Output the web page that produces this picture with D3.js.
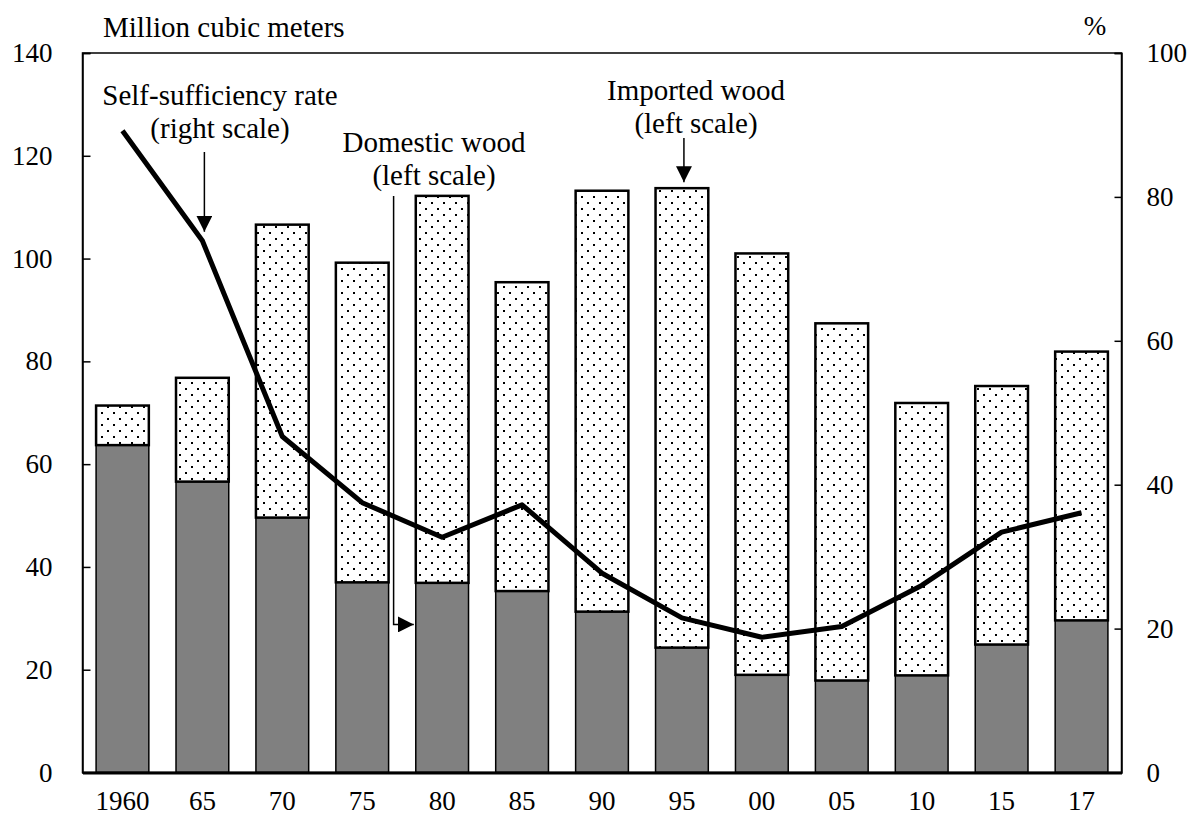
<!DOCTYPE html>
<html>
<head>
<meta charset="utf-8">
<script src="https://cdn.jsdelivr.net/npm/d3@7"></script>
<style>
  body { margin: 0; background: #fff; }
  text { font-family: "Liberation Serif", "Times New Roman", serif; fill: #000; }
</style>
</head>
<body>
<div id="chart"></div>
<script>
// donnees
var years = ["1960","65","70","75","80","85","90","95","00","05","10","15","17"];
var domestic = [63.7, 56.6, 49.6, 37.0, 36.9, 35.3, 31.3, 24.3, 19.0, 17.9, 18.9, 24.9, 29.6];
var total    = [71.4, 76.8, 106.6, 99.2, 112.2, 95.4, 113.2, 113.7, 101.0, 87.4, 71.9, 75.2, 81.9];
var selfRate = [89.2, 73.9, 46.7, 37.5, 32.7, 37.2, 27.7, 21.5, 18.8, 20.3, 26.0, 33.4, 36.1];
var leftTicks  = [0, 20, 40, 60, 80, 100, 120, 140];
var rightTicks = [0, 20, 40, 60, 80, 100];

var W = 1190, H = 817;
var m = {left: 82.5, right: 68.5, top: 53, bottom: 44.5};

var svg = d3.select('#chart').append('svg').attr('width', W).attr('height', H);

/* motif pointille pour le bois importe */
var defs = svg.append('defs');
var pat = defs.append('pattern').attr('id', 'dots')
    .attr('patternUnits', 'userSpaceOnUse')
    .attr('width', 12).attr('height', 12)
    .attr('x', 5).attr('y', 4);
pat.append('rect').attr('width', 12).attr('height', 12).attr('fill', '#fff');
pat.append('rect').attr('x', 0).attr('y', 0).attr('width', 2).attr('height', 2)
    .attr('fill', '#000').attr('shape-rendering', 'crispEdges');
pat.append('rect').attr('x', 6).attr('y', 6).attr('width', 2).attr('height', 2)
    .attr('fill', '#000').attr('shape-rendering', 'crispEdges');

var arrow = defs.append('marker').attr('id', 'arr')
    .attr('viewBox', '0 0 10 10').attr('refX', 10).attr('refY', 5)
    .attr('markerUnits', 'userSpaceOnUse')
    .attr('markerWidth', 16).attr('markerHeight', 16)
    .attr('orient', 'auto');
arrow.append('path').attr('d', 'M0,0L10,5L0,10Z').attr('fill', '#000');

var x = d3.scaleBand().domain(years).range([m.left, W - m.right])
    .paddingInner(0.34).paddingOuter(0.17);
var yL = d3.scaleLinear().domain([0, 140]).range([H - m.bottom, m.top]);
var yR = d3.scaleLinear().domain([0, 100]).range([H - m.bottom, m.top]);

var rows = years.map(function(d, i){
    return {year: d, dom: domestic[i], tot: total[i], rate: selfRate[i]};
});

// barres : bois domestique (gris)
svg.append('g').selectAll('rect').data(rows).enter().append('rect')
    .attr('x', function(d){ return x(d.year); })
    .attr('y', function(d){ return yL(d.dom); })
    .attr('width', x.bandwidth())
    .attr('height', function(d){ return yL(0) - yL(d.dom); })
    .attr('fill', '#808080').attr('stroke', '#000').attr('stroke-width', 1.5);

// barres : bois importe (pointille)
svg.append('g').selectAll('rect').data(rows).enter().append('rect')
    .attr('x', function(d){ return x(d.year); })
    .attr('y', function(d){ return yL(d.tot); })
    .attr('width', x.bandwidth())
    .attr('height', function(d){ return yL(d.dom) - yL(d.tot); })
    .attr('fill', 'url(#dots)').attr('stroke', '#000').attr('stroke-width', 2.5);

// cadre
svg.append('rect').attr('x', m.left).attr('y', m.top)
    .attr('width', W - m.right - m.left).attr('height', H - m.bottom - m.top)
    .attr('fill', 'none').attr('stroke', '#000').attr('stroke-width', 1.5);

// axes
var gL = svg.append('g').attr('transform', 'translate(' + m.left + ',0)')
    .call(d3.axisLeft(yL).tickValues(leftTicks).tickSize(-8).tickPadding(30));
var gR = svg.append('g').attr('transform', 'translate(' + (W - m.right) + ',0)')
    .call(d3.axisRight(yR).tickValues(rightTicks).tickSize(-7).tickPadding(25));
var gB = svg.append('g').attr('transform', 'translate(0,' + (H - m.bottom) + ')')
    .call(d3.axisBottom(x).tickSize(0).tickPadding(20));
[gL, gR, gB].forEach(function(g){
    g.selectAll('text').style('font-size', '27px').style('font-family', '"Liberation Serif", serif');
    g.selectAll('line').attr('stroke', '#000').attr('stroke-width', 1.5);
    g.select('.domain').attr('stroke', '#000').attr('stroke-width', 1.5);
});
gB.select('.domain').attr('stroke-width', 3);
gB.selectAll('text').attr('dy', '0.66em');

// courbe du taux d'autosuffisance
var line = d3.line()
    .x(function(d){ return x(d.year) + x.bandwidth() / 2; })
    .y(function(d){ return yR(d.rate); });
svg.append('path').datum(rows).attr('d', line)
    .attr('fill', 'none').attr('stroke', '#000').attr('stroke-width', 5)
    .attr('stroke-linejoin', 'round');

// titres des axes
svg.append('text').attr('x', 103).attr('y', 37).style('font-size', '29px').text('Million cubic meters');
svg.append('text').attr('x', 1095).attr('y', 35).attr('text-anchor', 'middle').style('font-size', '27px').text('%');

// annotations
function label(cx, y0, lines){
    var t = svg.append('text').attr('text-anchor', 'middle').style('font-size', '29px');
    lines.forEach(function(s, i){
        t.append('tspan').attr('x', cx).attr('y', y0 + i * 33).text(s);
    });
}
var cx65 = x('65') + x.bandwidth() / 2;
label(220, 105, ['Self-sufficiency rate', '(right scale)']);
svg.append('line').attr('x1', cx65 + 2).attr('x2', cx65 + 2)
    .attr('y1', 152).attr('y2', yR(selfRate[1]) - 9)
    .attr('stroke', '#000').attr('stroke-width', 1.5).attr('marker-end', 'url(#arr)');

var gap75 = x('75') + x.bandwidth() + 5;
label(434, 152, ['Domestic wood', '(left scale)']);
svg.append('path')
    .attr('d', 'M' + gap75 + ',196V' + yL(28.8) + 'H' + (x('80') - 2))
    .attr('fill', 'none').attr('stroke', '#000').attr('stroke-width', 1.5)
    .attr('marker-end', 'url(#arr)');

var cx95 = x('95') + x.bandwidth() / 2;
label(696, 100, ['Imported wood', '(left scale)']);
svg.append('line').attr('x1', cx95 + 2).attr('x2', cx95 + 2)
    .attr('y1', 138).attr('y2', yL(total[7]) - 6)
    .attr('stroke', '#000').attr('stroke-width', 1.5).attr('marker-end', 'url(#arr)');
</script>
</body>
</html>
